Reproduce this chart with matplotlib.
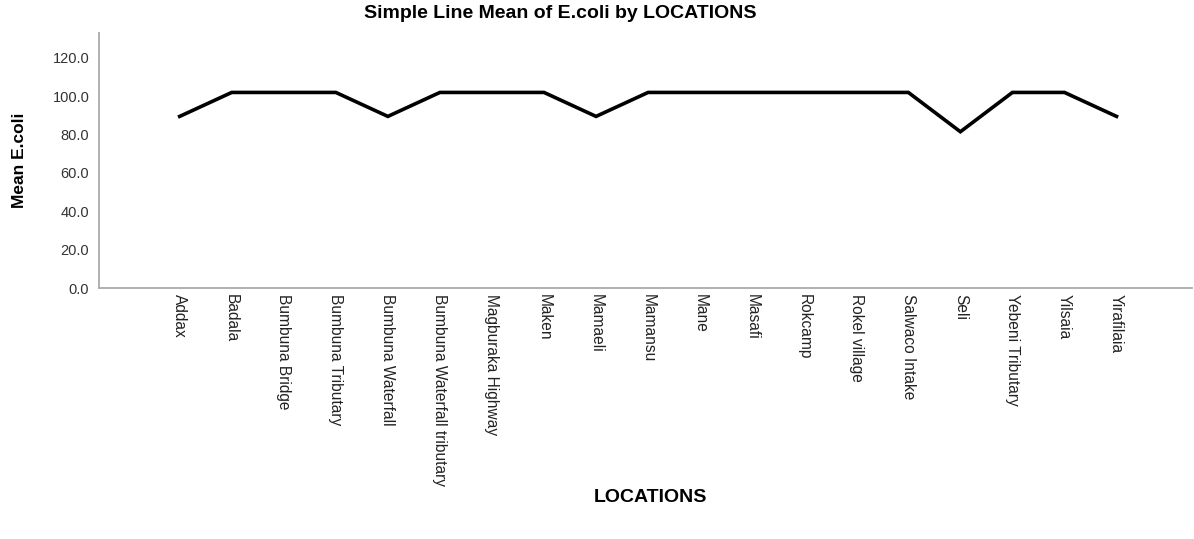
import matplotlib.pyplot as plt

locations = ["Addax", "Badala", "Bumbuna Bridge", "Bumbuna Tributary",
             "Bumbuna Waterfall", "Bumbuna Waterfall tributary",
             "Magburaka Highway", "Maken", "Mamaeli", "Mamansu", "Mane",
             "Masafi", "Rokcamp", "Rokel village", "Salwaco Intake", "Seli",
             "Yebeni Tributary", "Yilsaia", "Yirafilaia"]
mean_ecoli = [89.5, 102.0, 102.0, 102.0, 89.5, 102.0, 102.0, 102.0, 89.5,
              102.0, 102.0, 102.0, 102.0, 102.0, 102.0, 81.5, 102.0, 102.0,
              89.5]
yticks = [0, 20, 40, 60, 80, 100, 120]

plt.rcParams['font.family'] = ['Liberation Sans', 'DejaVu Sans']

fig = plt.figure(figsize=(11.94, 5.39), dpi=100)
ax = fig.add_axes([99 / 1194, 1 - 288 / 539, (1192 - 99) / 1194, (288 - 33) / 539])

x = list(range(len(locations)))
ax.plot(x, mean_ecoli, color='black', lw=2.6, solid_joinstyle='miter')

ax.set_xlim(-1.55, 19.45)
ax.set_ylim(0, 133)
ax.set_xticks(x)
ax.set_xticklabels(locations, rotation=270, fontsize=11.2, color='#222222',
                   va='top', ha='center')
ax.set_yticks(yticks)
ax.set_yticklabels(["%.1f" % v for v in yticks], fontsize=10.5, color='#333333')
ax.tick_params(axis='both', length=0)
ax.tick_params(axis='x', pad=4)
ax.tick_params(axis='y', pad=7)

for s in ['top', 'right']:
    ax.spines[s].set_visible(False)
for s in ['left', 'bottom']:
    ax.spines[s].set_color('#aaaaaa')
    ax.spines[s].set_linewidth(1.3)

fig.text(20 / 1194, 1 - 160 / 539, "Mean E.coli", fontsize=12.5,
         fontweight='bold', rotation=90, ha='center', va='center')
fig.text(650 / 1194, 1 - 497 / 539, "LOCATIONS", fontsize=14,
         fontweight='bold', ha='center', va='center')
fig.text(560 / 1194, 1 - 14 / 539, "Simple Line Mean of E.coli by LOCATIONS",
         fontsize=14, fontweight='bold', ha='center', va='center')

fig.savefig("out.png", dpi=100)
